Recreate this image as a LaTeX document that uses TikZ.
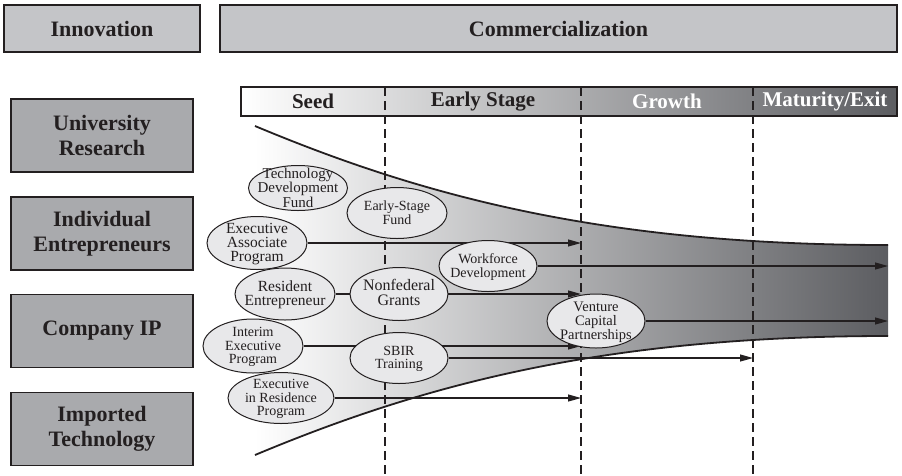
\documentclass[tikz,border=0pt]{standalone}
\usepackage{fontspec}
\setmainfont{Liberation Serif}
\usetikzlibrary{shapes.geometric,arrows.meta}

\definecolor{ink}{HTML}{231F20}
\definecolor{hdrfill}{HTML}{C4C5C8}
\definecolor{srcfill}{HTML}{A9AAAD}
\definecolor{ellfill}{HTML}{E8E8EA}
\definecolor{darkend}{HTML}{5C5D61}

\pgfdeclarelayer{back}
\pgfdeclarelayer{mid}
\pgfsetlayers{back,mid,main}

% centred multi-line text that does not enlarge its ellipse
\newcommand{\etxt}[2]{\smash{\raisebox{-5pt}{\makebox[0pt]{\fontsize{#1}{13.5}\selectfont\begin{tabular}{@{}c@{}}#2\end{tabular}}}}}

\tikzset{
  hdr/.style={draw=ink, line width=1.3pt, fill=hdrfill, text=ink,
    font=\fontsize{22}{25}\selectfont\bfseries, align=center, inner sep=0},
  src/.style={hdr, fill=srcfill, minimum width=182pt, minimum height=73pt},
  stagelbl/.style={font=\fontsize{21}{24}\selectfont\bfseries, inner sep=0},
  ell/.style={ellipse, draw=ink, line width=1pt, fill=ellfill, inner sep=0, text=ink},
  flow/.style={draw=ink, line width=1.1pt, -{Triangle[length=13pt,width=7pt]}},
  edge/.style={draw=ink, line width=1.8pt},
  phase/.style={draw=ink, line width=1.8pt, dash pattern=on 9pt off 5pt},
}

\begin{document}
\begin{tikzpicture}[x=1pt, y=-1pt]
\useasboundingbox (0,0) rectangle (902,475);

% header boxes
\node[hdr, minimum width=196pt, minimum height=47pt] (innov) at (102,28.5) {Innovation};
\node[hdr, minimum width=677pt, minimum height=47pt] (comm) at (558.5,28.5) {Commercialization};

% sources
\node[src] (univ) at (102,135.5) {University\\Research};
\node[src] (indiv) at (102,233.5) {Individual\\Entrepreneurs};
\node[src] (cip) at (102,331) {Company IP};
\node[src] (imp) at (102,429) {Imported\\Technology};

\begin{pgfonlayer}{back}
  % stage bar
  \shade[left color=white, right color=darkend] (241,87) rectangle (897,116);
  \draw[ink, line width=1.3pt] (241,87) rectangle (897,116);
  % funnel
  \shade[left color=white, right color=darkend]
    (255,126) .. controls (420,195) and (600,245) .. (888,245)
    -- (888,336) .. controls (600,336) and (420,386) .. (255,455) -- cycle;
  \draw[edge] (255,126) .. controls (420,195) and (600,245) .. (888,245);
  \draw[edge] (888,336) .. controls (600,336) and (420,386) .. (255,455);
  % stage boundaries
  \draw[phase] (385,87) -- (385,475);
  \draw[phase] (581,87) -- (581,475);
  \draw[phase] (753,87) -- (753,475);
\end{pgfonlayer}

% stage labels
\node[stagelbl, text=ink] (seed) at (313,101.5) {Seed};
\node[stagelbl, text=ink] (early) at (483,101.5) {Early Stage};
\node[stagelbl, text=white] (growth) at (667,101.5) {Growth};
\node[stagelbl, text=white] (mature) at (825,101.5) {Maturity/Exit};

% programmes
\node[ell, minimum width=99pt, minimum height=45pt] (tdf) at (298,188) {\etxt{15}{Technology\\Development\\Fund}};
\node[ell, minimum width=100pt, minimum height=51pt] (esf) at (397,213) {\etxt{14}{Early-Stage\\Fund}};
\node[ell, minimum width=100pt, minimum height=53pt] (eap) at (257,243) {\etxt{15.5}{Executive\\Associate\\Program}};
\node[ell, minimum width=98pt, minimum height=51pt] (wd) at (488,266) {\etxt{14}{Workforce\\Development}};
\node[ell, minimum width=100pt, minimum height=52pt] (re) at (285,294) {\etxt{15.5}{Resident\\Entrepreneur}};
\node[ell, minimum width=98pt, minimum height=53pt] (ng) at (399,294) {\etxt{16}{Nonfederal\\Grants}};
\node[ell, minimum width=100pt, minimum height=54pt] (iep) at (253,346) {\etxt{14}{Interim\\Executive\\Program}};
\node[ell, minimum width=98pt, minimum height=51pt] (sbir) at (399,358) {\etxt{14}{SBIR\\Training}};
\node[ell, minimum width=106pt, minimum height=51pt] (eirp) at (281,398) {\etxt{14}{Executive\\in Residence\\Program}};
\node[ell, minimum width=98pt, minimum height=54pt] (vcp) at (596,321) {\etxt{14.5}{Venture\\Capital\\Partnerships}};

% arrow ends
\coordinate (e1) at (581,243);
\coordinate (e2) at (888,266);
\coordinate (e3) at (581,294);
\coordinate (e4) at (888,321);
\coordinate (e5) at (581,346);
\coordinate (e6) at (753,358);
\coordinate (e7) at (581,398);

\begin{pgfonlayer}{mid}
  \draw[flow] (eap.east) -- (e1);
  \draw[flow] (wd.east) -- (e2);
  \draw[flow] (re.east) -- (e3);
  \draw[flow] (vcp.east) -- (e4);
  \draw[flow] (iep.east) -- (e5);
  \draw[flow] (sbir.east) -- (e6);
  \draw[flow] (eirp.east) -- (e7);
\end{pgfonlayer}
\end{tikzpicture}
\end{document}
